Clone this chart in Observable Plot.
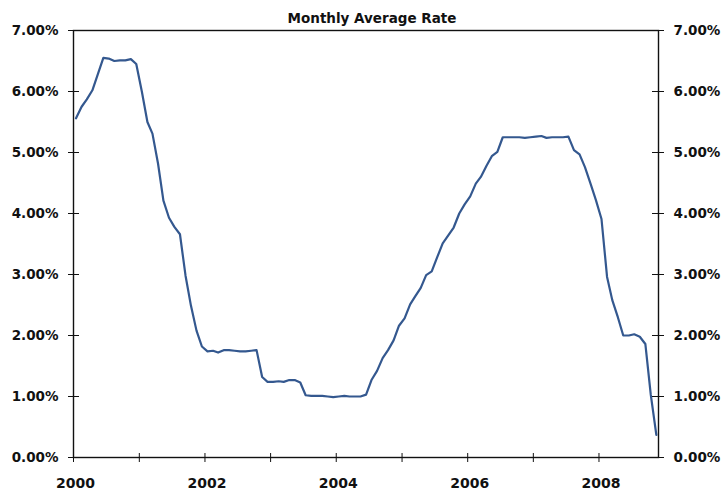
<!DOCTYPE html>
<html>
<head>
<meta charset="utf-8">
<script src="https://cdn.jsdelivr.net/npm/d3@7"></script>
<script src="https://cdn.jsdelivr.net/npm/@observablehq/plot@0.6"></script>
<style>
  html, body { margin: 0; padding: 0; background: #fff; }
  #chart svg { display: block; }
</style>
</head>
<body>
<div id="chart"></div>
<script>
// Monthly average rate (%), Jan 2000 – Nov 2008
const years = [2000, 2001, 2002, 2003, 2004, 2005, 2006, 2007, 2008];
const rates2000 = [5.56, 5.75, 5.87, 6.02, 6.28, 6.55, 6.54, 6.50, 6.51, 6.51, 6.53, 6.45];
const rates2001 = [6.00, 5.50, 5.31, 4.82, 4.21, 3.93, 3.78, 3.66, 2.98, 2.49, 2.08, 1.82];
const rates2002 = [1.74, 1.75, 1.72, 1.76, 1.76, 1.75, 1.74, 1.74, 1.75, 1.76, 1.32, 1.24];
const rates2003 = [1.24, 1.25, 1.24, 1.27, 1.27, 1.23, 1.02, 1.01, 1.01, 1.01, 1.00, 0.99];
const rates2004 = [1.00, 1.01, 1.00, 1.00, 1.00, 1.03, 1.27, 1.42, 1.63, 1.76, 1.92, 2.16];
const rates2005 = [2.28, 2.51, 2.64, 2.78, 2.99, 3.05, 3.28, 3.51, 3.64, 3.77, 4.00, 4.15];
const rates2006 = [4.28, 4.49, 4.60, 4.78, 4.94, 5.01, 5.25, 5.25, 5.25, 5.25, 5.24, 5.25];
const rates2007 = [5.26, 5.27, 5.24, 5.25, 5.25, 5.25, 5.26, 5.04, 4.97, 4.76, 4.49, 4.22];
const rates2008 = [3.91, 2.96, 2.58, 2.30, 2.00, 2.00, 2.02, 1.98, 1.86, 1.03, 0.37];
const yTicks = [0, 1, 2, 3, 4, 5, 6, 7];
const xLabelYears = [2000, 2002, 2004, 2006, 2008];
const title = "Monthly Average Rate";

const allRates = [rates2000, rates2001, rates2002, rates2003, rates2004, rates2005, rates2006, rates2007, rates2008];
const data = [];
allRates.forEach((arr, yi) => arr.forEach((v, m) => data.push({date: new Date(Date.UTC(years[yi], m, 15)), rate: v})));

const W = 721, H = 491;
const mL = 73, mR = 63, mT = 30, mB = 34;
const fw = W - mL - mR, fh = H - mT - mB;
const font = "DejaVu Sans, sans-serif";
const yearDates = years.map(y => new Date(Date.UTC(y, 0, 1)));
const labelDates = xLabelYears.map(y => new Date(Date.UTC(y, 0, 1)));
const fmt = d => d3.format(".2f")(d) + "%";

const chart = Plot.plot({
  width: W, height: H,
  marginLeft: mL, marginRight: mR, marginTop: mT, marginBottom: mB,
  style: {fontFamily: font, fontSize: "13.5px", fontWeight: "bold", color: "#111", background: "#fff"},
  x: {type: "utc", domain: [new Date(Date.UTC(2000, 0, 1)), new Date(Date.UTC(2008, 10, 27))]},
  y: {domain: [0, 7]},
  marks: [
    Plot.line(data, {x: "date", y: "rate", stroke: "#34588f", strokeWidth: 2.2, curve: "linear"}),
    Plot.frame({stroke: "#111", strokeWidth: 1.4}),
    // left axis
    Plot.axisY({anchor: "left", ticks: yTicks, tickSize: 5, tickPadding: 10, tickFormat: fmt, label: null, stroke: "#111"}),
    Plot.tickY(yTicks, {y: d => d, insetRight: fw - 6, stroke: "#111"}),
    // right axis
    Plot.axisY({anchor: "right", ticks: yTicks, tickSize: 5, tickPadding: 10, tickFormat: fmt, label: null, stroke: "#111"}),
    Plot.tickY(yTicks, {y: d => d, insetLeft: fw - 6, stroke: "#111"}),
    // bottom axis
    Plot.axisX({anchor: "bottom", ticks: yearDates, tickSize: 5, tickFormat: () => "", label: null, stroke: "#111"}),
    Plot.tickX(yearDates, {x: d => d, insetTop: fh - 4, stroke: "#111"}),
    Plot.text(labelDates, {x: d => d, text: d => String(d.getUTCFullYear()), frameAnchor: "bottom", lineAnchor: "top", dy: 21, dx: 2, fill: "#111", fontSize: 14, fontWeight: "bold"}),
    // title
    Plot.text([title], {text: d => d, frameAnchor: "top", lineAnchor: "top", dy: -17, dx: 6, fill: "#111", fontSize: 13.5, fontWeight: "bold"})
  ]
});
document.getElementById("chart").appendChild(chart);
</script>
</body>
</html>
